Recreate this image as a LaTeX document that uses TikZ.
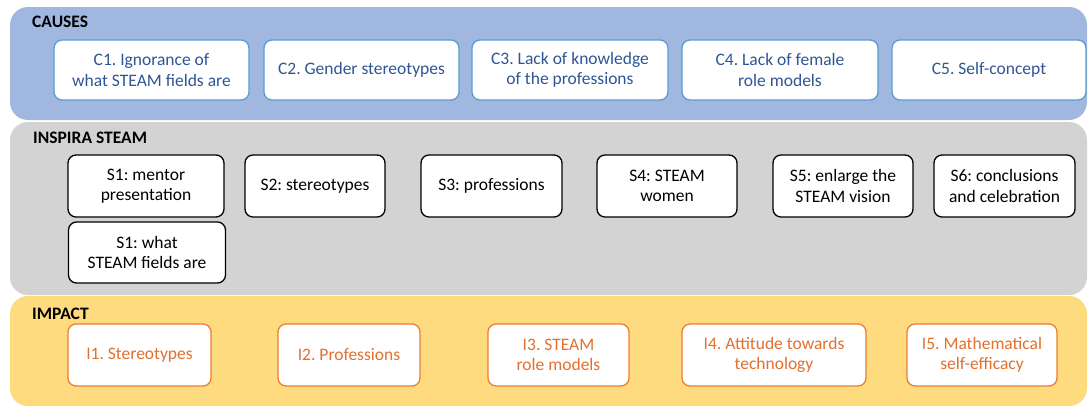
\documentclass[tikz,border=0pt]{standalone}
\usepackage{fontspec}
\setmainfont{Carlito}
\frenchspacing
\begin{document}
\begin{tikzpicture}[x=1pt,y=-1pt,
  font=\fontsize{17.5}{20.5}\selectfont,
  panel/.style={rounded corners=18pt, draw=none},
  heading/.style={anchor=west, inner sep=0pt, font=\fontsize{17.5}{20.5}\selectfont\bfseries, text=black},
  box/.style={rounded corners=8pt, fill=white, line width=1.3pt, align=center, inner sep=2pt},
  causebox/.style={box, draw=causeline, text=causetext, minimum height=60pt},
  sessionbox/.style={box, draw=black, text=black, minimum height=62pt},
  impactbox/.style={box, draw=impactline, text=impacttext, minimum height=62pt}
]
\definecolor{causefill}{HTML}{A0B8E0}
\definecolor{causeline}{HTML}{5B9BD5}
\definecolor{causetext}{HTML}{2F5597}
\definecolor{sessionfill}{HTML}{D3D3D3}
\definecolor{impactfill}{HTML}{FFDB80}
\definecolor{impactline}{HTML}{ED7D31}
\definecolor{impacttext}{HTML}{E2702E}

\useasboundingbox (0,0) rectangle (1088,407);
\fill[white] (0,0) rectangle (1088,407);

% three horizontal bands
\fill[panel, fill=causefill] (10,7) rectangle (1087,120);
\fill[panel, fill=sessionfill] (10,122) rectangle (1087,295);
\fill[panel, fill=impactfill] (10,296) rectangle (1087,406);

\node[heading] (hcauses) at (32,22) {CAUSES};
\node[heading] (hinspira) at (33,138) {INSPIRA STEAM};
\node[heading] (himpact) at (32,314) {IMPACT};

% causes
\node[causebox, minimum width=195pt] (c1) at (151.5,70) {C1. Ignorance of\\what STEAM fields are};
\node[causebox, minimum width=195pt] (c2) at (361.5,70) {C2. Gender stereotypes};
\node[causebox, minimum width=196pt] (c3) at (570,70) {C3. Lack of knowledge\\of the professions};
\node[causebox, minimum width=196pt] (c4) at (780,70) {C4. Lack of female\\role models};
\node[causebox, minimum width=194pt] (c5) at (989,70) {C5. Self-concept};

% sessions
\node[sessionbox, minimum width=156pt] (s1a) at (146,186) {S1: mentor\\presentation};
\node[sessionbox, minimum width=157pt, minimum height=61pt] (s1b) at (147,252.5) {S1: what\\STEAM fields are};
\node[sessionbox, minimum width=140pt] (s2) at (315,186) {S2: stereotypes};
\node[sessionbox, minimum width=141pt] (s3) at (491.5,186) {S3: professions};
\node[sessionbox, minimum width=140pt] (s4) at (667,186) {S4: STEAM\\women};
\node[sessionbox, minimum width=140pt] (s5) at (843,186) {S5: enlarge the\\STEAM vision};
\node[sessionbox, minimum width=141pt] (s6) at (1004.5,186) {S6: conclusions\\and celebration};

% impact
\node[impactbox, minimum width=143pt] (i1) at (139.5,355) {I1. Stereotypes};
\node[impactbox, minimum width=142pt] (i2) at (349,355) {I2. Professions};
\node[impactbox, minimum width=141pt] (i3) at (558.5,355) {I3. STEAM\\role models};
\node[impactbox, minimum width=184pt] (i4) at (774,355) {I4. Attitude towards\\technology};
\node[impactbox, minimum width=150pt] (i5) at (982,355) {I5. Mathematical\\self-efficacy};
\end{tikzpicture}
\end{document}
